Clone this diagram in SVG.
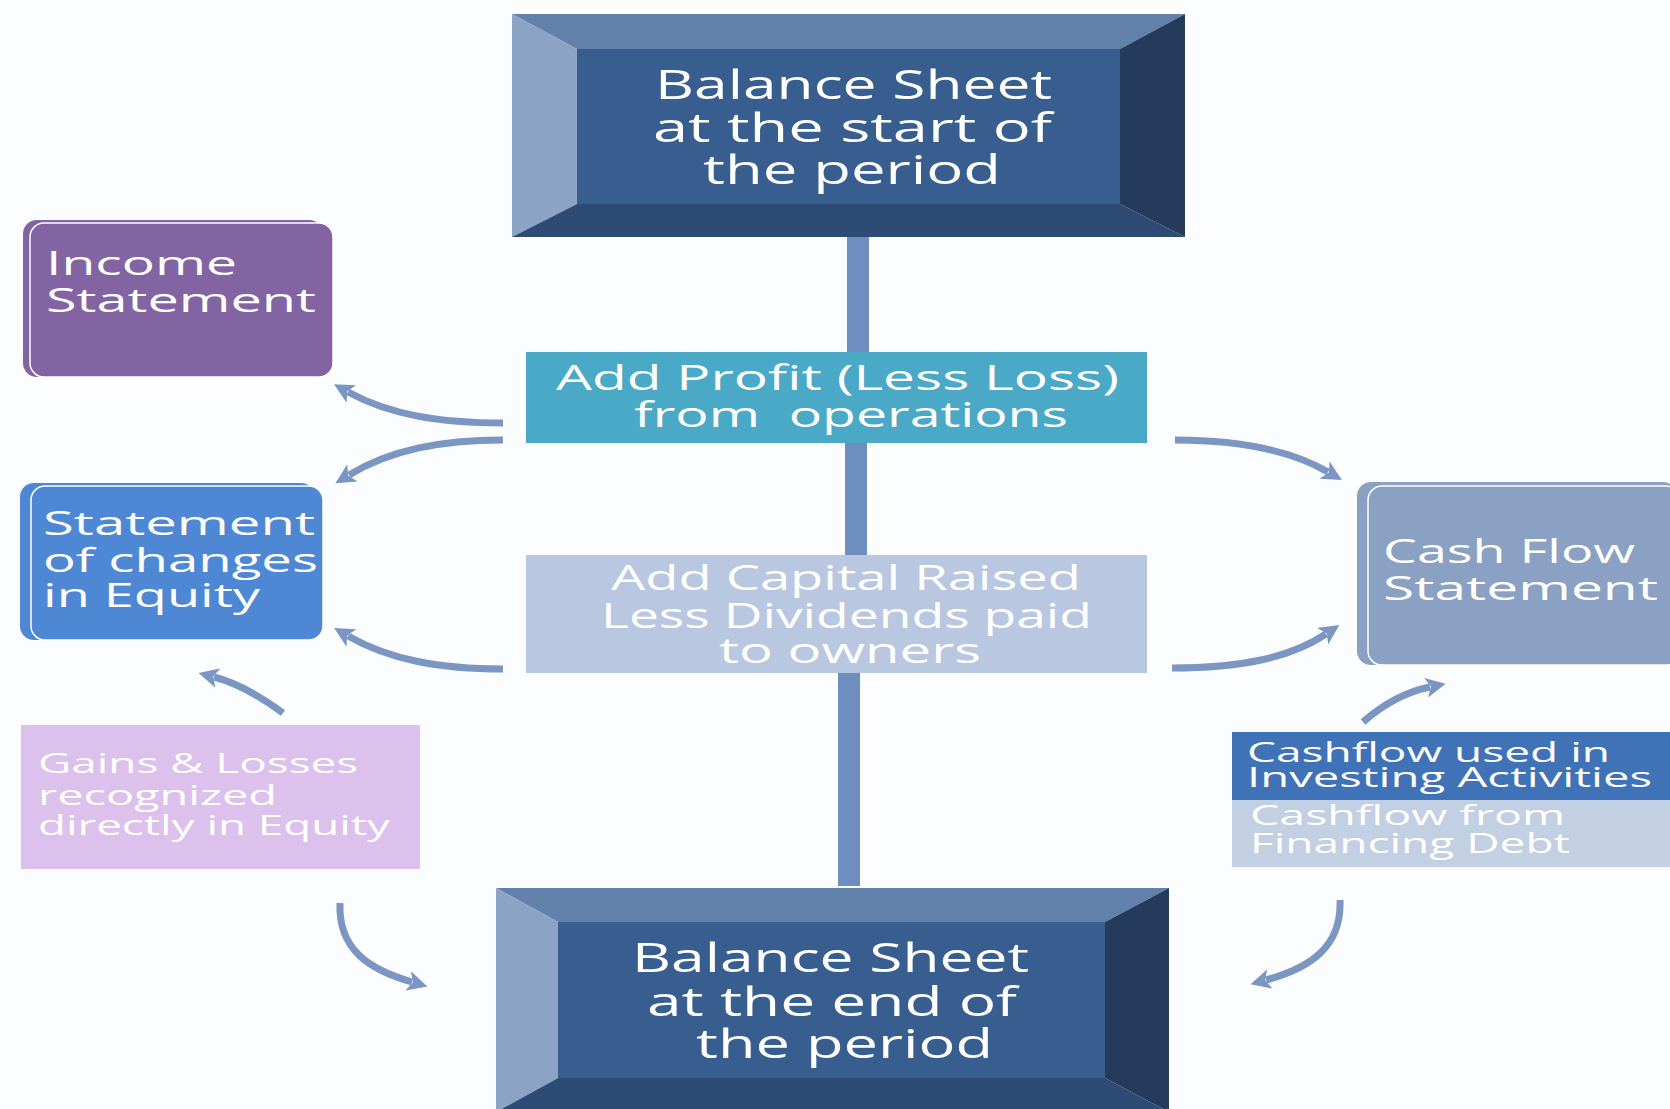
<svg xmlns="http://www.w3.org/2000/svg" width="1670" height="1109" viewBox="0 0 1670 1109">
<style>
.t{font-family:"Open Sans","Noto Sans","DejaVu Sans",sans-serif;fill:#ffffff;}
.big{font-size:40px;}
.mid{font-size:34px;}
.side{font-size:32px;}
.sm{font-size:27px;}
.bar{fill:#6e8ec0;}
.arr{fill:none;stroke:#7b96c3;stroke-width:7;marker-end:url(#ah);}
.card{stroke:#ffffff;stroke-width:1.5;}
</style>
<defs>
<marker id="ah" markerUnits="userSpaceOnUse" markerWidth="22" markerHeight="20" refX="4" refY="10" orient="auto" viewBox="0 0 22 20">
<path d="M0,0 L20,10 L0,20 L5,10 z" fill="#7b96c3"/>
</marker>
</defs>
<rect width="1670" height="1109" fill="#fcfdfe"/>

<g id="connectors">
<rect class="bar" x="847" y="236" width="22" height="118"/>
<rect class="bar" x="845" y="442" width="22" height="114"/>
<rect class="bar" x="838" y="672" width="22" height="214"/>
<path class="arr" d="M503,423 C440,423 390,415 348,392"/>
<path class="arr" d="M503,440 C440,440 390,450 349,475"/>
<path class="arr" d="M503,669 C440,669 390,660 348,636"/>
<path class="arr" d="M283,713 Q245,685 214,677"/>
<path class="arr" d="M340,903 C338,950 370,970 412,982"/>
<path class="arr" d="M1175,440 C1240,440 1290,450 1328,472"/>
<path class="arr" d="M1172,668 C1240,668 1290,658 1326,634"/>
<path class="arr" d="M1363,722 Q1395,694 1430,687"/>
<path class="arr" d="M1340,900 C1342,947 1310,968 1266,980"/>
</g>

<g id="bs-start">
<polygon points="512,14 1185,14 1120,49 577,49" fill="#6281aa"/>
<polygon points="512,14 577,49 577,204 512,237" fill="#8ba3c5"/>
<polygon points="1185,14 1185,237 1120,204 1120,49" fill="#243b5c"/>
<polygon points="512,237 577,204 1120,204 1185,237" fill="#2d4b74"/>
<rect x="577" y="49" width="543" height="155" fill="#385e8f"/>
<text class="t big" x="655" y="99" textLength="397" lengthAdjust="spacingAndGlyphs">Balance Sheet</text>
<text class="t big" x="653" y="142" textLength="399" lengthAdjust="spacingAndGlyphs">at the start of</text>
<text class="t big" x="703" y="184" textLength="298" lengthAdjust="spacingAndGlyphs">the period</text>
</g>

<g id="income">
<rect x="23" y="220" width="300" height="157" rx="14" fill="#8264a2"/>
<rect class="card" x="30" y="223" width="303" height="154" rx="14" fill="#8264a2"/>
<text class="t side" x="46" y="275" textLength="191" lengthAdjust="spacingAndGlyphs">Income</text>
<text class="t side" x="46" y="312" textLength="270" lengthAdjust="spacingAndGlyphs">Statement</text>
</g>

<g id="equity">
<rect x="20" y="483" width="295" height="157" rx="14" fill="#4e88d4"/>
<rect class="card" x="31" y="486" width="292" height="154" rx="14" fill="#4e88d4"/>
<text class="t side" x="43" y="535" textLength="272" lengthAdjust="spacingAndGlyphs">Statement</text>
<text class="t side" x="43" y="572" textLength="275" lengthAdjust="spacingAndGlyphs">of changes</text>
<text class="t side" x="43" y="607" textLength="217" lengthAdjust="spacingAndGlyphs">in Equity</text>
</g>

<g id="profit">
<rect x="526" y="352" width="621" height="91" fill="#4aa9c7"/>
<text class="t mid" x="556" y="390" textLength="563" lengthAdjust="spacingAndGlyphs">Add Profit (Less Loss)</text>
<text class="t mid" x="634" y="427" textLength="434" lengthAdjust="spacingAndGlyphs" style="white-space:pre">from  operations</text>
</g>

<g id="capital">
<rect x="526" y="555" width="621" height="118" fill="#b9c7e0"/>
<text class="t mid" x="611" y="590" textLength="470" lengthAdjust="spacingAndGlyphs" fill="#f5f8fc">Add Capital Raised</text>
<text class="t mid" x="601" y="628" textLength="491" lengthAdjust="spacingAndGlyphs">Less Dividends paid</text>
<text class="t mid" x="719" y="663" textLength="262" lengthAdjust="spacingAndGlyphs">to owners</text>
</g>

<g id="cashflow">
<rect x="1357" y="482" width="320" height="183" rx="14" fill="#8aa1c3"/>
<rect class="card" x="1368" y="486" width="312" height="179" rx="14" fill="#8aa1c3"/>
<text class="t side" x="1383" y="563" textLength="252" lengthAdjust="spacingAndGlyphs">Cash Flow</text>
<text class="t side" x="1383" y="600" textLength="275" lengthAdjust="spacingAndGlyphs">Statement</text>
</g>

<g id="gains">
<rect x="21" y="725" width="399" height="144" fill="#dcc1ec"/>
<text class="t sm" x="38" y="773" textLength="320" lengthAdjust="spacingAndGlyphs" fill="#f4ecf9">Gains &amp; Losses</text>
<text class="t sm" x="38" y="805" textLength="239" lengthAdjust="spacingAndGlyphs" fill="#f4ecf9">recognized</text>
<text class="t sm" x="38" y="835" textLength="352" lengthAdjust="spacingAndGlyphs" fill="#f4ecf9">directly in Equity</text>
</g>

<g id="cash-items">
<rect x="1232" y="732" width="438" height="68" fill="#3f72b6"/>
<rect x="1232" y="800" width="438" height="67" fill="#c3cfe3"/>
<text class="t sm" x="1247" y="762" textLength="363" lengthAdjust="spacingAndGlyphs">Cashflow used in</text>
<text class="t sm" x="1247" y="787" textLength="405" lengthAdjust="spacingAndGlyphs">Investing Activities</text>
<text class="t sm" x="1250" y="825" textLength="315" lengthAdjust="spacingAndGlyphs">Cashflow from</text>
<text class="t sm" x="1250" y="853" textLength="320" lengthAdjust="spacingAndGlyphs">Financing Debt</text>
</g>

<g id="bs-end">
<polygon points="496,888 1169,888 1105,922 558,922" fill="#6281aa"/>
<polygon points="496,888 558,922 558,1078 496,1112" fill="#8ba3c5"/>
<polygon points="1169,888 1169,1112 1105,1078 1105,922" fill="#243b5c"/>
<polygon points="496,1112 558,1078 1105,1078 1169,1112" fill="#2d4b74"/>
<rect x="558" y="922" width="547" height="156" fill="#385e8f"/>
<text class="t big" x="632" y="972" textLength="397" lengthAdjust="spacingAndGlyphs">Balance Sheet</text>
<text class="t big" x="647" y="1016" textLength="370" lengthAdjust="spacingAndGlyphs">at the end of</text>
<text class="t big" x="696" y="1058" textLength="297" lengthAdjust="spacingAndGlyphs">the period</text>
</g>
</svg>
